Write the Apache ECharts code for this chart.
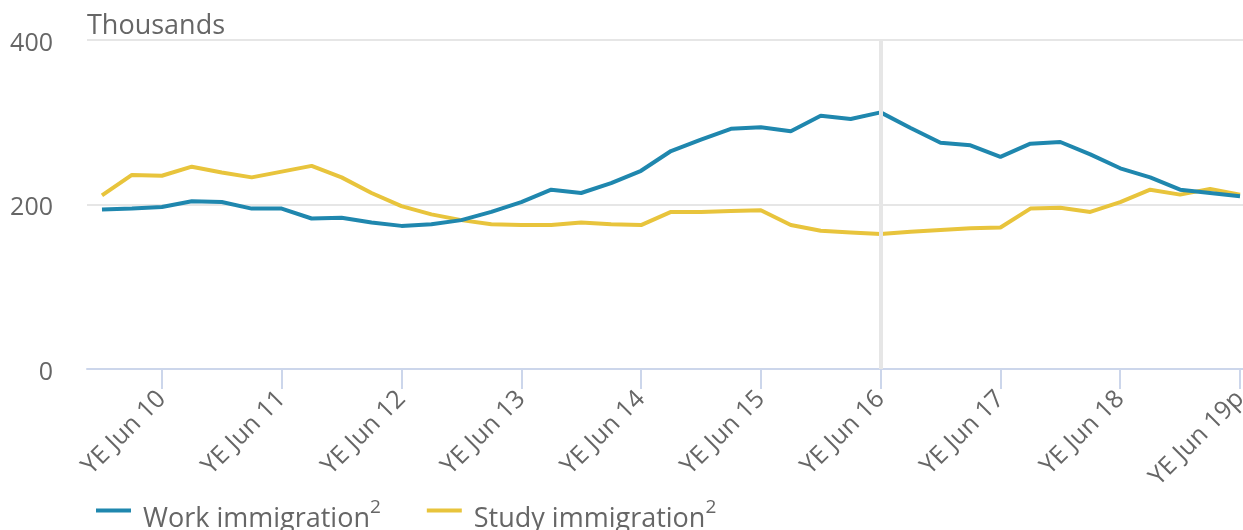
<!DOCTYPE html>
<html>
<head>
<meta charset="utf-8">
<script src="https://cdn.jsdelivr.net/npm/echarts@6/dist/echarts.min.js"></script>
<style>
html,body{margin:0;padding:0;background:#fff;overflow:hidden;width:1243px;height:530px;}
#chart{width:1255px;height:530px;}
</style>
</head>
<body>
<div id="chart"></div>
<script>
const categories = [
  'YE Dec 09','YE Mar 10','YE Jun 10','YE Sep 10','YE Dec 10','YE Mar 11','YE Jun 11','YE Sep 11','YE Dec 11',
  'YE Mar 12','YE Jun 12','YE Sep 12','YE Dec 12','YE Mar 13','YE Jun 13','YE Sep 13','YE Dec 13',
  'YE Mar 14','YE Jun 14','YE Sep 14','YE Dec 14','YE Mar 15','YE Jun 15','YE Sep 15','YE Dec 15',
  'YE Mar 16','YE Jun 16','YE Sep 16','YE Dec 16','YE Mar 17','YE Jun 17','YE Sep 17','YE Dec 17',
  'YE Mar 18','YE Jun 18','YE Sep 18','YE Dec 18','YE Mar 19','YE Jun 19p'
];
const workImmigration = [
  194,195,197,204,203,195,195,183,184,
  178,174,176,181,191,203,218,214,
  226,241,265,279,292,294,289,308,
  304,312,293,275,272,258,274,276,
  261,244,233,218,214,210
];
const studyImmigration = [
  211,236,235,246,239,233,240,247,233,
  214,198,188,181,176,175,175,178,
  176,175,191,191,192,193,175,168,
  166,164,167,169,171,172,195,196,
  191,203,218,212,219,212
];
const seriesNames = ['Work immigration', 'Study immigration'];
const yTicks = [0, 200, 400];
const markedCategory = 'YE Jun 16';

const FONT = '"Open Sans", sans-serif';
const showLabel = (i) => i % 4 === 2;

const chart = echarts.init(document.getElementById('chart'), null, {renderer: 'canvas'});
chart.setOption({
  animation: false,
  textStyle: {fontFamily: FONT},
  title: {
    text: 'Thousands',
    left: 82, top: 8,
    textStyle: {fontFamily: FONT, fontSize: 27, fontWeight: 'normal', color: '#666666'}
  },
  grid: {left: 87, right: 0, top: 40, bottom: 161, containLabel: false},
  xAxis: {
    type: 'category',
    data: categories,
    boundaryGap: true,
    axisLine: {lineStyle: {color: '#ccd6eb', width: 2}},
    axisTick: {show: true, alignWithLabel: true, interval: showLabel, length: 20, lineStyle: {color: '#ccd6eb', width: 2}},
    axisLabel: {
      interval: showLabel, rotate: 45, fontSize: 25, color: '#666666', margin: 26, fontFamily: FONT
    },
    splitLine: {show: false}
  },
  yAxis: {
    type: 'value',
    min: yTicks[0], max: yTicks[yTicks.length - 1], interval: yTicks[1] - yTicks[0],
    axisLine: {show: false}, axisTick: {show: false},
    axisLabel: {
      margin: 34,
      formatter: (v) => '{a|' + v + '}',
      rich: {a: {fontSize: 25, color: '#666666', fontFamily: FONT, padding: [7, 0, 0, 0]}}
    },
    splitLine: {lineStyle: {color: '#e6e6e6', width: 2}}
  },
  legend: {
    data: seriesNames,
    left: 96, top: 498, padding: 0,
    icon: 'path://M0,0h35v4h-35z M0,14h0.01v0.01h-0.01z',
    itemWidth: 35, itemHeight: 14, itemGap: 46,
    formatter: (n) => '{m|' + n + '}{s|2}',
    textStyle: {
      fontFamily: FONT, fontSize: 27, color: '#666666', padding: [0, 0, 0, 7],
      rich: {
        m: {fontSize: 27, color: '#666666', fontFamily: FONT, padding: [8, 0, 0, 0]},
        s: {fontSize: 19, verticalAlign: 'top', color: '#666666', fontFamily: FONT, padding: [0, 0, 6, 0]}
      }
    }
  },
  series: [
    {
      name: 'marker', type: 'line', data: [], z: 1, silent: true,
      markLine: {
        silent: true, symbol: ['none', 'none'], label: {show: false},
        lineStyle: {color: '#e6e6e6', width: 4, type: 'solid'},
        data: [{xAxis: markedCategory}]
      }
    },
    {
      name: seriesNames[0], type: 'line', data: workImmigration, z: 3,
      showSymbol: false, symbol: 'none', color: '#1f87ae',
      lineStyle: {width: 4, color: '#1f87ae'}
    },
    {
      name: seriesNames[1], type: 'line', data: studyImmigration, z: 2,
      showSymbol: false, symbol: 'none', color: '#e8c43c',
      lineStyle: {width: 4, color: '#e8c43c'}
    }
  ]
});
</script>
</body>
</html>
